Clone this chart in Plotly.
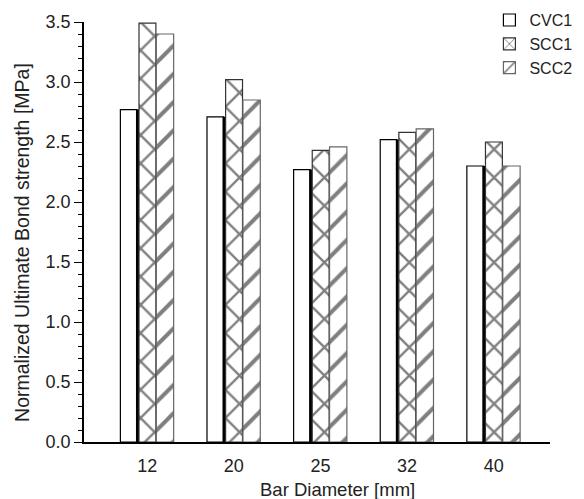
import plotly.graph_objects as go

diameters = ["12", "20", "25", "32", "40"]
cvc1 = [2.77, 2.71, 2.27, 2.52, 2.30]
scc1 = [3.49, 3.02, 2.43, 2.58, 2.50]
scc2 = [3.40, 2.85, 2.46, 2.61, 2.30]

FONT = "Liberation Sans, Arial, sans-serif"

fig = go.Figure()
fig.add_trace(go.Bar(
    x=diameters, y=cvc1, name="CVC1", offset=-0.31, width=0.19,
    marker=dict(color="white", line=dict(color="black", width=1.2)),
))
# thick dark right edge of CVC1 bars as seen in the reference
fig.add_trace(go.Bar(
    x=diameters, y=cvc1, name="CVC1 edge", offset=-0.13, width=0.035,
    marker=dict(color="black", line=dict(width=0)), showlegend=False,
))
fig.add_trace(go.Bar(
    x=diameters, y=scc1, name="SCC1", offset=-0.095, width=0.195,
    marker=dict(color="white", line=dict(color="#333", width=1.2),
                pattern=dict(shape="x", size=20, solidity=0.22,
                             fgcolor="black", bgcolor="white")),
))
fig.add_trace(go.Bar(
    x=diameters, y=scc2, name="SCC2", offset=0.105, width=0.2,
    marker=dict(color="white", line=dict(color="#666", width=1.2),
                pattern=dict(shape="/", size=20, solidity=0.2,
                             fgcolor="black", bgcolor="white")),
))

fig.update_layout(
    width=584, height=499,
    margin=dict(l=76, r=42, t=14, b=65, autoexpand=False),
    paper_bgcolor="white", plot_bgcolor="white",
    barmode="overlay",
    font=dict(family=FONT, size=18, color="#222"),
    showlegend=True,
    legend=dict(x=0.87, y=1.045, xanchor="left", yanchor="top",
                bgcolor="rgba(0,0,0,0)", font=dict(size=16),
                tracegroupgap=0, itemwidth=30),
    xaxis=dict(type="category", range=[-0.73, 4.65],
               showline=True, linecolor="black", linewidth=1.5,
               ticks="", showgrid=False, zeroline=False,
               tickfont=dict(size=18), ticklabelstandoff=7),
    yaxis=dict(range=[0, 3.5], dtick=0.5, tickformat=".1f",
               showline=True, linecolor="black", linewidth=1.5,
               ticks="outside", ticklen=8, tickcolor="black", tickwidth=1.2,
               minor=dict(dtick=0.1, ticks="outside", ticklen=4,
                          tickcolor="black", tickwidth=1),
               showgrid=False, zeroline=False, tickfont=dict(size=18)),
    annotations=[
        dict(text="Bar Diameter [mm]", x=0.545, y=-0.112, xref="paper", yref="paper",
             xanchor="center", yanchor="middle", showarrow=False,
             font=dict(size=18.5)),
        dict(text="Normalized Ultimate Bond strength [MPa]", x=(22 - 84) / 466, y=0.474,
             xref="paper", yref="paper", showarrow=False, textangle=-90,
             xanchor="center", yanchor="middle", font=dict(size=19.5)),
    ],
)

fig.write_html("out.html")
